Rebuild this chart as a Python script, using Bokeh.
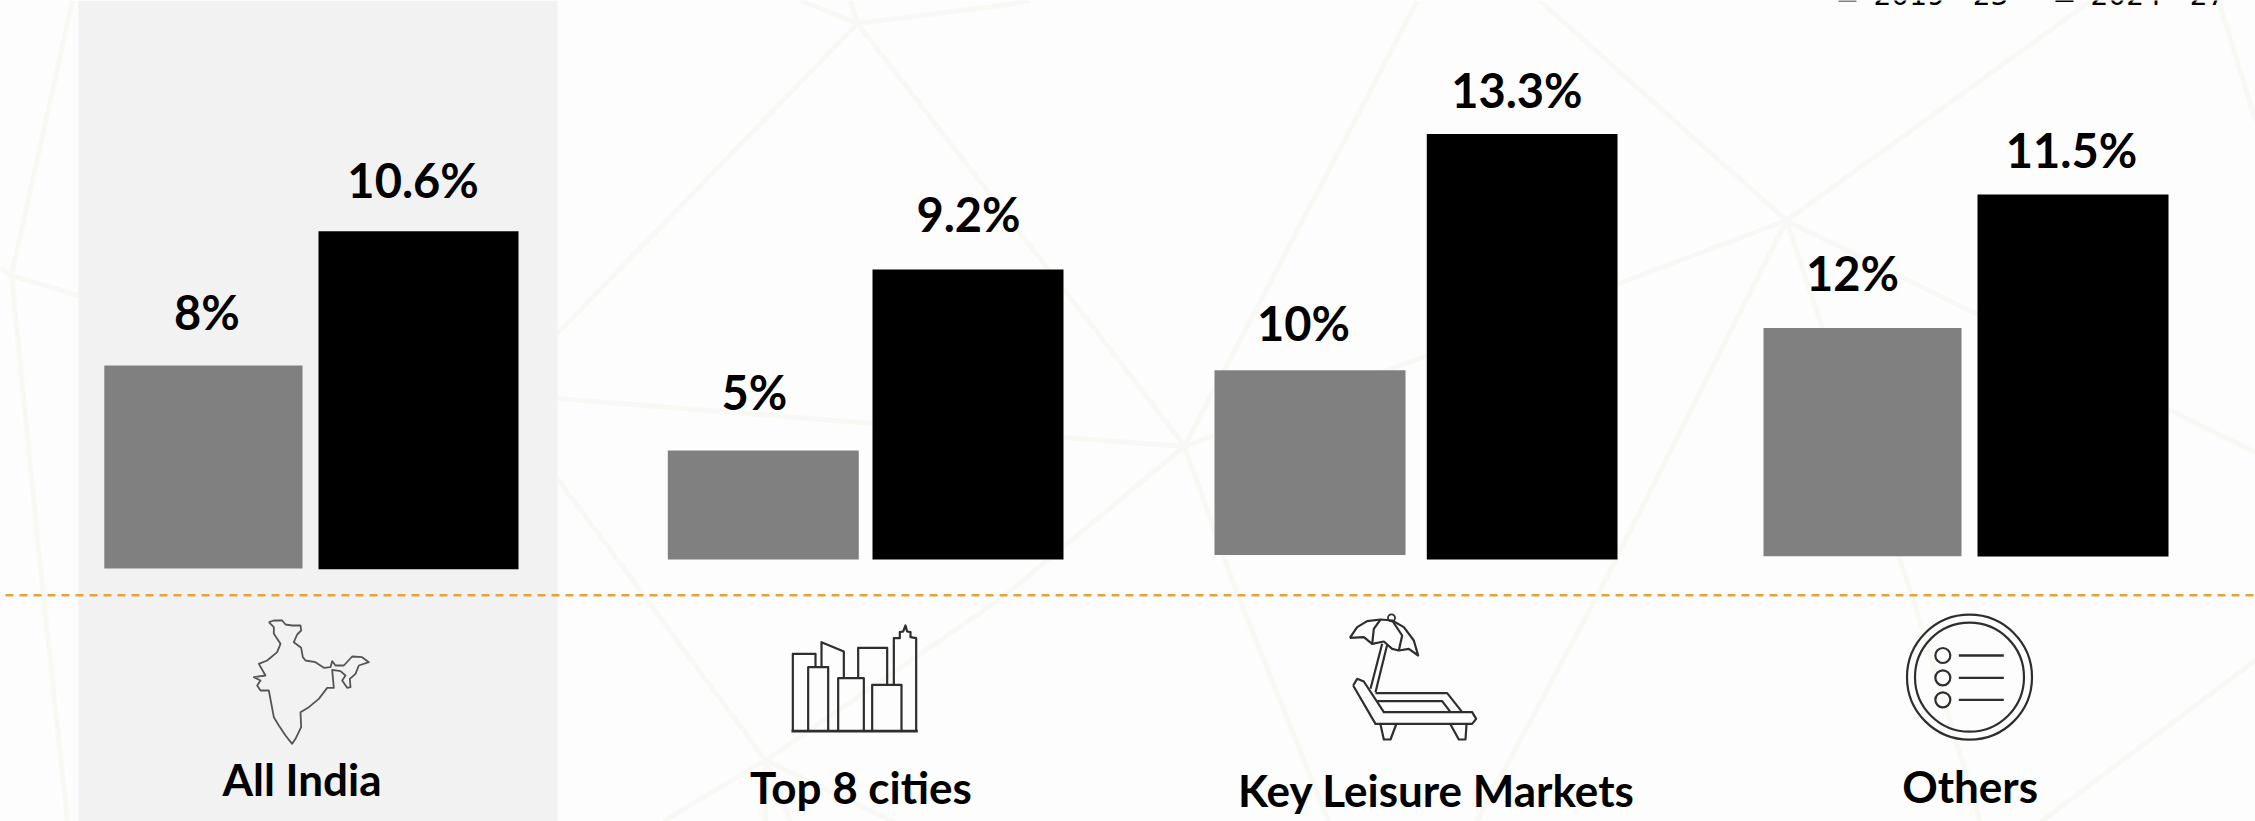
from bokeh.plotting import figure
from bokeh.models import Range1d
from bokeh.embed import file_html
from bokeh.resources import INLINE
from bokeh.core.properties import value

W, H = 2255, 821

# ---------- data ----------
categories = ["All India", "Top 8 cities", "Key Leisure Markets", "Others"]
series_names = ["2019 - 23", "2024 - 27"]
labels_2019 = ["8%", "5%", "10%", "12%"]
labels_2024 = ["10.6%", "9.2%", "13.3%", "11.5%"]
# bar heights as drawn (in %-points of the black-bar scale)
heights_2019 = [6.34, 3.41, 5.77, 7.13]
heights_2024 = [10.56, 9.06, 13.3, 11.31]

# ---------- layout ----------
PX_PER_PCT = 32.0
base_2019 = [568, 559, 554.5, 555.7]
base_2024 = [568.7, 559, 559, 556]
x_2019 = [(103.8, 302), (667.3, 858.3), (1214, 1405), (1763, 1961)]
x_2024 = [(318, 518), (872, 1063), (1426.3, 1617), (1977, 2168)]
lab_2019 = [(206.5, 329), (754, 409.5), (1303, 340), (1852, 290)]
lab_2024 = [(412.6, 197), (968, 231.5), (1516.4, 107), (2071, 167.6)]
cat_pos = [(301.5, 795), (860.5, 803), (1436, 806.7), (1969.6, 802)]
VAL_SIZE, CAT_SIZE, LEG_SIZE = 47, 44, 28
BASE_SHIFT = 0.38  # share of the font size between asked and drawn baseline
FONT = value("Lato")
BG = "#FDFDFD"; NET = "#F8F8F4"; GREY = "#808080"; ICON = "#2E2E2E"

p = figure(width=W, height=H, x_range=Range1d(0, W), y_range=Range1d(H, 0),
           output_backend="svg", toolbar_location=None, min_border=0,
           background_fill_color=BG, border_fill_color=BG, outline_line_color=None)
p.styles = {"position": "absolute", "left": "0px", "top": "0px"}
p.grid.visible = False
p.axis.visible = False
p.extra_y_ranges = {"pct": Range1d(0, H / PX_PER_PCT)}

# ---------- faint background network ----------
net = [
    [(72, 0), (11, 275), (43, 597), (67, 821)],
    [(0, 268), (11, 275), (78, 295)],
    [(557, 398), (872, 423), (1130, 442), (1184, 446)],
    [(800, 0), (857, 23), (1009, 4), (1030, 0)],
    [(850, 0), (857, 23), (557, 333)],
    [(857, 23), (1130, 375), (1184, 446)],
    [(1417, 0), (1184, 446), (1238, 597), (1328, 821)],
    [(1130, 490), (1184, 446), (1424, 356), (1786, 220)],
    [(1539, 0), (1786, 220), (2091, 0)],
    [(1786, 220), (1977, 314), (2170, 410), (2255, 452)],
    [(1786, 220), (1596, 597), (1476, 821)],
    [(1786, 220), (1912, 597), (1980, 821)],
    [(2218, 0), (2255, 120)],
    [(557, 478), (765, 760), (790, 821)],
    [(1184, 446), (1002, 597), (765, 760), (663, 821)],
    [(765, 760), (893, 821)],
    [(765, 760), (765, 821)],
    [(2255, 660), (2041, 821)],
]
for seg in net:
    p.line([a for a, _ in seg], [b for _, b in seg], line_color=NET, line_width=5)

# highlighted column
p.quad(left=[78], right=[557], top=[0], bottom=[H], fill_color="#F2F2F2", line_color=None)

# dashed divider
p.line([5, W], [594.7, 594.7], line_color="#E9A23B", line_width=2.6, line_dash="8 6")

# ---------- bars ----------
for xs, hs, bases, col in ((x_2019, heights_2019, base_2019, GREY),
                           (x_2024, heights_2024, base_2024, "#000000")):
    bott = [(H - b) / PX_PER_PCT for b in bases]
    p.quad(left=[a for a, _ in xs], right=[b for _, b in xs],
           bottom=bott, top=[b + h for b, h in zip(bott, hs)],
           fill_color=col, line_color=None, y_range_name="pct")

# ---------- texts ----------
for pos, txts in ((lab_2019, labels_2019), (lab_2024, labels_2024)):
    p.text([a for a, _ in pos], [b - BASE_SHIFT * VAL_SIZE for _, b in pos], text=txts, text_font=FONT,
           text_font_style="bold", text_font_size=f"{VAL_SIZE}px", text_color="#000000",
           text_align="center", text_baseline="alphabetic")
p.text([a for a, _ in cat_pos], [b - BASE_SHIFT * CAT_SIZE for _, b in cat_pos], text=categories, text_font=FONT,
       text_font_style="bold", text_font_size=f"{CAT_SIZE}px", text_color="#000000",
       text_align="center", text_baseline="alphabetic")

# ---------- legend (cropped by the top edge) ----------
p.quad(left=[1838, 2055], right=[1856, 2073], top=[-6, -6], bottom=[1.5, 1.5],
       fill_color=[GREY, "#000000"], line_color=None)
p.text([1873, 2090], [6 - BASE_SHIFT * LEG_SIZE] * 2, text=series_names, text_font=value("DejaVu Sans"),
       text_font_size=f"{LEG_SIZE}px", text_color="#000000", text_baseline="alphabetic")

# ---------- icons (outline sketches, 3x zoom coordinates) ----------
def poly(origin, pts, lw=1.5, col=ICON):
    ox, oy = origin
    p.line([ox + a / 3 for a, _ in pts], [oy + b / 3 for _, b in pts],
           line_color=col, line_width=lw, line_join="round")

india = [(115,35),(130,30),(155,30),(165,42),(185,45),(210,45),(212,60),(200,72),(190,95),(212,112),
         (217,140),(225,150),(255,155),(280,172),(300,170),(305,152),(315,165),(340,165),(365,138),
         (395,140),(415,155),(385,165),(375,190),(358,205),(360,230),(350,232),(335,210),(345,195),
         (330,182),(305,178),(310,232),(290,232),(265,265),(235,290),(210,305),(212,350),(195,385),
         (185,400),(165,375),(145,345),(130,320),(115,240),(90,240),(80,225),(90,210),(70,200),
         (105,195),(85,160),(110,150),(140,125),(150,100),(130,70),(130,50),(115,35)]
poly((230, 610), india, 1.8, "#555555")

city = [
    [(37,347),(37,115),(105,115),(105,155)],
    [(83,347),(83,155),(143,155),(143,347)],
    [(123,155),(123,80),(190,108),(190,188)],
    [(173,347),(173,188),(250,188),(250,347)],
    [(233,188),(233,97),(320,97),(320,208)],
    [(275,347),(275,208),(363,208),(363,347)],
    [(340,208),(340,68),(358,68),(358,50),(368,48),(375,30),(380,48),(390,50),(390,65),(407,68),(407,347)],
]
for s in city:
    poly((780, 615), s, 2.2)
poly((780, 615), [(33,347),(412,347)], 2.8)

chair = [
    [(58,97),(80,65),(110,47),(150,42),(185,45),(220,65),(250,105),(263,150),(235,130),(205,135),
     (185,130),(160,108),(125,115),(100,95),(58,97)],
    [(150,42),(130,70),(125,115)],
    [(185,45),(215,90),(205,135)],
    [(155,115),(120,250)],
    [(170,118),(135,260)],
    [(68,240),(80,220),(100,228),(160,320),(425,320),(437,340),(425,355),(135,355),(68,240)],
    [(135,263),(350,263),(395,320)],
    [(140,287),(335,287),(360,320)],
    [(150,357),(160,402),(180,402),(197,357)],
    [(360,357),(385,402),(405,402),(408,357)],
]
for s in chair:
    poly((1330, 605), s, 2.2)
p.scatter([1330 + 183 / 3], [605 + 37 / 3], size=7, fill_color=None, line_color=ICON, line_width=1.8)

oc_x, oc_y = 1890 + 237 / 3, 610 + 200 / 3
p.scatter([oc_x], [oc_y], size=125, fill_color=None, line_color=ICON, line_width=2.2)
p.scatter([oc_x], [oc_y], size=109, fill_color=None, line_color=ICON, line_width=2.2)
ys = [135, 202, 268]
p.scatter([1890 + 157 / 3] * 3, [610 + y / 3 for y in ys], size=15, fill_color=None,
          line_color=ICON, line_width=2.2)
for y in ys:
    poly((1890, 610), [(205, y), (340, y)], 2.4)

open("out.html", "w").write(file_html(p, INLINE))
